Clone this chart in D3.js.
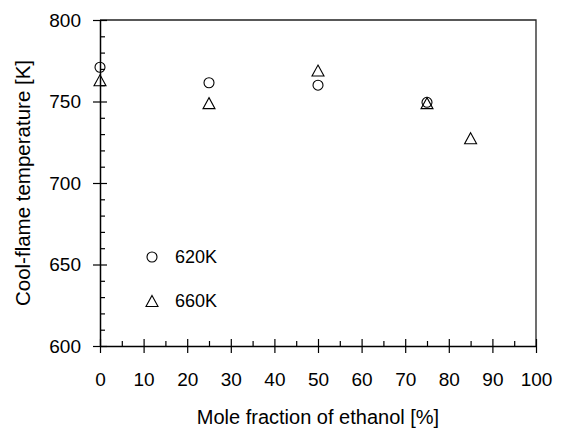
<!DOCTYPE html>
<html>
<head>
<meta charset="utf-8">
<script src="https://cdn.jsdelivr.net/npm/d3@7"></script>
<style>
  body { margin: 0; background: #fff; }
  svg { font-family: "Liberation Sans", Arial, sans-serif; }
</style>
</head>
<body>
<svg id="chart" width="561" height="433"></svg>
<script>
// mole fraction of ethanol [%]
var frac620 = [0, 25, 50, 75];
var temp620 = [771, 761.5, 760, 749.5];
var frac660 = [0, 25, 50, 75, 85];
var temp660 = [763, 749, 769, 749, 727.5];

var xMajor = [0, 10, 20, 30, 40, 50, 60, 70, 80, 90, 100];
var xMinor = [5, 15, 25, 35, 45, 55, 65, 75, 85, 95];
var yMajor = [600, 650, 700, 750, 800];
var yMinor = [610, 620, 630, 640, 660, 670, 680, 690, 710, 720, 730, 740, 760, 770, 780, 790];

var legendNames = ["620K", "660K"];

var svg = d3.select("#chart"),
    margin = {top: 20, right: 25, bottom: 87, left: 100},
    width = +svg.attr("width") - margin.left - margin.right,
    height = +svg.attr("height") - margin.top - margin.bottom;

var x = d3.scaleLinear().domain([0, 100]).range([0, width]),
    y = d3.scaleLinear().domain([600, 800]).range([height, 0]);

var g = svg.append("g")
    .attr("transform", "translate(" + margin.left + "," + margin.top + ")");

var tri = "M0,-5.5L6,5.5L-6,5.5Z";

// frame: top and right
g.append("path")
    .attr("d", "M0,0H" + width + "V" + height)
    .attr("fill", "none")
    .attr("stroke", "#222")
    .attr("stroke-width", 1.3);

// x axis
var xAx = g.append("g")
    .attr("transform", "translate(0," + height + ")")
    .call(d3.axisBottom(x).tickValues(xMajor).tickSize(7).tickPadding(20).tickSizeOuter(0));
xAx.selectAll(".tick line").attr("y1", -7);
g.append("g")
    .attr("transform", "translate(0," + height + ")")
    .call(d3.axisBottom(x).tickValues(xMinor).tickSize(-5).tickFormat("").tickSizeOuter(0))
    .select(".domain").remove();

// y axis
var yAx = g.append("g")
    .call(d3.axisLeft(y).tickValues(yMajor).tickSize(7).tickPadding(12).tickSizeOuter(0));
yAx.selectAll(".tick line").attr("x1", 7);
g.append("g")
    .call(d3.axisLeft(y).tickValues(yMinor).tickSize(-5).tickFormat("").tickSizeOuter(0))
    .select(".domain").remove();

g.selectAll(".domain").attr("stroke", "#000").attr("stroke-width", 1.5);
g.selectAll(".tick line").attr("stroke", "#000").attr("stroke-width", 1.2);
g.selectAll(".tick text")
    .attr("font-size", "19px")
    .attr("font-family", "Liberation Sans, Arial, sans-serif")
    .attr("fill", "#000");

// axis titles
g.append("text")
    .attr("x", width / 2)
    .attr("y", height + 78)
    .attr("text-anchor", "middle")
    .attr("font-size", "20px")
    .text("Mole fraction of ethanol [%]");

g.append("text")
    .attr("transform", "translate(" + (-70) + "," + (height / 2) + ") rotate(-90)")
    .attr("text-anchor", "middle")
    .attr("font-size", "20.5px")
    .text("Cool-flame temperature [K]");

// 620K circles
g.selectAll(".c620")
  .data(frac620)
  .enter()
  .append("circle")
    .attr("class", "c620")
    .attr("cx", function(d) { return x(d); })
    .attr("cy", function(d, i) { return y(temp620[i]); })
    .attr("r", 5)
    .attr("fill", "none")
    .attr("stroke", "#000")
    .attr("stroke-width", 1.1);

// 660K triangles
g.selectAll(".t660")
  .data(frac660)
  .enter()
  .append("path")
    .attr("class", "t660")
    .attr("d", tri)
    .attr("transform", function(d, i) { return "translate(" + x(d) + "," + y(temp660[i]) + ")"; })
    .attr("fill", "none")
    .attr("stroke", "#000")
    .attr("stroke-width", 1.1);

// legend
var leg = g.append("g").attr("transform", "translate(52,237)");
leg.append("circle")
    .attr("cx", 0).attr("cy", 0).attr("r", 5)
    .attr("fill", "none").attr("stroke", "#000").attr("stroke-width", 1.1);
leg.append("path")
    .attr("d", tri)
    .attr("transform", "translate(0,44)")
    .attr("fill", "none").attr("stroke", "#000").attr("stroke-width", 1.1);
leg.selectAll(".legtext")
  .data(legendNames)
  .enter()
  .append("text")
    .attr("class", "legtext")
    .attr("x", 23)
    .attr("y", function(d, i) { return i * 44 + 6; })
    .attr("font-size", "18px")
    .text(function(d) { return d; });
</script>
</body>
</html>
